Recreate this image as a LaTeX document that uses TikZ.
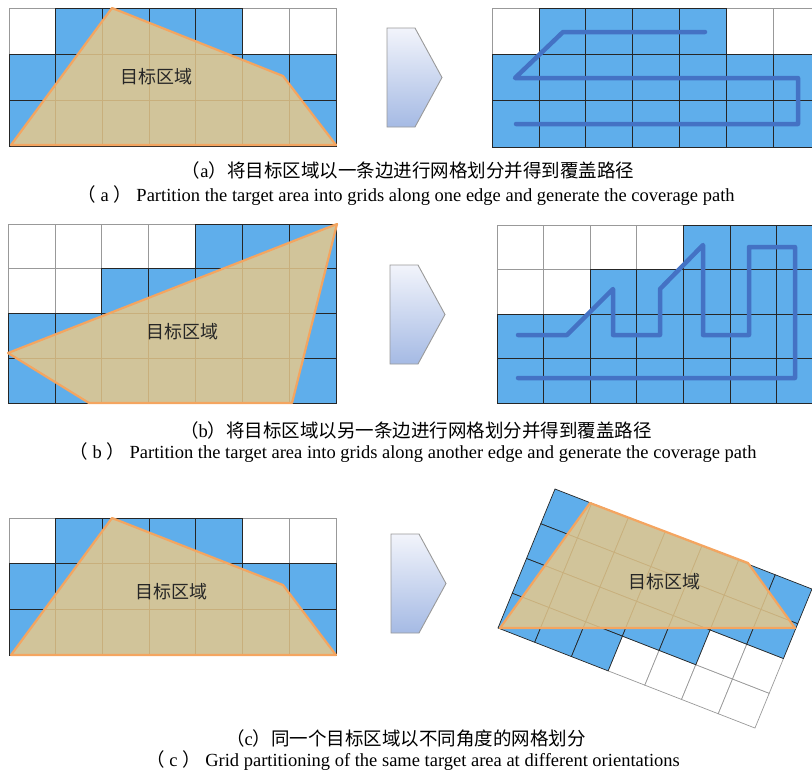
\documentclass[tikz,border=0pt]{standalone}
\usepackage{fontspec}
\setmainfont{Liberation Serif}
\newfontfamily\cjk{Noto Sans CJK SC}
\usetikzlibrary{positioning}
\definecolor{cellblue}{RGB}{95,174,235}
\definecolor{regiontan}{RGB}{229,200,140}
\definecolor{edgeorange}{RGB}{244,165,96}
\definecolor{pathblue}{RGB}{68,114,196}
\definecolor{shiftlight}{RGB}{242,244,251}
\definecolor{shiftdark}{RGB}{165,186,228}

\begin{document}
\begin{tikzpicture}[x=1pt, y=-1pt,
        bluecell/.style={fill=cellblue, draw=black!85, line width=0.7pt},
        whitecell/.style={fill=white, draw=black!40, line width=0.7pt},
        region/.style={fill=regiontan, fill opacity=0.85, draw=edgeorange, line width=2.2pt, line join=round},
        covpath/.style={draw=pathblue, line width=4.5pt, line cap=round, line join=round},
        shifter/.style={top color=shiftlight, bottom color=shiftdark, draw=black!40, line width=0.9pt},
        areatext/.style={font=\cjk\fontsize{18}{18}\selectfont, text=black!85},
        capzh/.style={font=\cjk\fontsize{18.5}{20}\selectfont, anchor=base, inner sep=0pt},
        capen/.style={font=\fontsize{18.5}{20}\selectfont, anchor=base, inner sep=0pt}
    ]
    \useasboundingbox (0,0) rectangle (812,774);
    \clip (0,0) rectangle (812,774);

    % (a) one edge
    \begin{scope}[shift={(9,8)}, x=46.7pt, y=-46pt]
        \foreach \c in {0,5,6} \draw[whitecell] (\c,0) rectangle ++(1,1);
        \foreach \c in {1,...,4} \draw[bluecell] (\c,0) rectangle ++(1,1);
        \foreach \r in {1,2} \foreach \c in {0,...,6} \draw[bluecell] (\c,\r) rectangle ++(1,1);
    \end{scope}
    \draw[region] (11,145) -- (112,8) -- (283,76) -- (336,145) -- cycle;
    \node[areatext] (areaA) at (156,77) {目标区域};

    \begin{scope}[shift={(492,8)}, x=46.85pt, y=-46.3pt]
        \foreach \c in {0,5,6} \draw[whitecell] (\c,0) rectangle ++(1,1);
        \foreach \c in {1,...,4} \draw[bluecell] (\c,0) rectangle ++(1,1);
        \foreach \r in {1,2} \foreach \c in {0,...,6} \draw[bluecell] (\c,\r) rectangle ++(1,1);
    \end{scope}
    \draw[covpath] (705,32) -- (563,32) -- (515,78) -- (798,78) -- (798,124) -- (516,124);

    % (b) another edge
    \begin{scope}[shift={(8,224)}, x=46.9pt, y=-44.8pt]
        \foreach \c in {0,...,3} \draw[whitecell] (\c,0) rectangle ++(1,1);
        \foreach \c in {0,1} \draw[whitecell] (\c,1) rectangle ++(1,1);
        \foreach \c in {4,...,6} \draw[bluecell] (\c,0) rectangle ++(1,1);
        \foreach \c in {2,...,6} \draw[bluecell] (\c,1) rectangle ++(1,1);
        \foreach \r in {2,3} \foreach \c in {0,...,6} \draw[bluecell] (\c,\r) rectangle ++(1,1);
    \end{scope}
    \draw[region] (337,224) -- (8,353) -- (89,403) -- (292,403) -- cycle;
    \node[areatext] (areaB) at (182,332) {目标区域};

    \begin{scope}[shift={(497,225)}, x=46.6pt, y=-44.5pt]
        \foreach \c in {0,...,3} \draw[whitecell] (\c,0) rectangle ++(1,1);
        \foreach \c in {0,1} \draw[whitecell] (\c,1) rectangle ++(1,1);
        \foreach \c in {4,...,6} \draw[bluecell] (\c,0) rectangle ++(1,1);
        \foreach \c in {2,...,6} \draw[bluecell] (\c,1) rectangle ++(1,1);
        \foreach \r in {2,3} \foreach \c in {0,...,6} \draw[bluecell] (\c,\r) rectangle ++(1,1);
    \end{scope}
    \draw[covpath] (518,335) -- (567,335) -- (613,289) -- (613,335) -- (660,335) -- (660,289)
        -- (703,245) -- (703,335) -- (749,335) -- (749,247) -- (795,247) -- (795,378) -- (518,378);

    % (c) same area, two orientations
    \begin{scope}[shift={(9,518)}, x=46.7pt, y=-45.7pt]
        \foreach \c in {0,5,6} \draw[whitecell] (\c,0) rectangle ++(1,1);
        \foreach \c in {1,...,4} \draw[bluecell] (\c,0) rectangle ++(1,1);
        \foreach \r in {1,2} \foreach \c in {0,...,6} \draw[bluecell] (\c,\r) rectangle ++(1,1);
    \end{scope}
    \draw[region] (11,655) -- (112,518) -- (283,585) -- (336,655) -- cycle;
    \node[areatext] (areaC) at (171,592) {目标区域};

    % rotated grid: cells drawn as quadrilaterals
    \begin{scope}[shift={(555,489)}, x={(36.71pt,-14.29pt)}, y={(-14.25pt,-34.75pt)}]
        \foreach \c in {3,...,6} \draw[whitecell] (\c,3) -- ++(1,0) -- ++(0,1) -- ++(-1,0) -- cycle;
        \foreach \c in {5,6} \draw[whitecell] (\c,2) -- ++(1,0) -- ++(0,1) -- ++(-1,0) -- cycle;
        \foreach \r in {0,1} \foreach \c in {0,...,6}
            \draw[bluecell] (\c,\r) -- ++(1,0) -- ++(0,1) -- ++(-1,0) -- cycle;
        \foreach \c in {0,...,4} \draw[bluecell] (\c,2) -- ++(1,0) -- ++(0,1) -- ++(-1,0) -- cycle;
        \foreach \c in {0,...,2} \draw[bluecell] (\c,3) -- ++(1,0) -- ++(0,1) -- ++(-1,0) -- cycle;
    \end{scope}
    \draw[region] (500,628) -- (590,503) -- (748,563) -- (795,628) -- cycle;
    \node[areatext] (areaD) at (664,582) {目标区域};

    % shift arrows
    \foreach \ax/\ay in {387/28, 390/265, 391/534}
        \shadedraw[shifter] (\ax,\ay) -- ++(28,0) -- ++(27,49.5) -- ++(-27,49.5) -- ++(-28,0) -- cycle;

    % captions
    \node[capzh] (capA) at (408,177) {（{\rmfamily a}）将目标区域以一条边进行网格划分并得到覆盖路径};
    \node[capen] (capAen) at (406,201) {{\cjk （} a {\cjk ）} Partition the target area into grids along one edge and generate the coverage path};
    \node[capzh] (capB) at (416,437) {（{\rmfamily b}）将目标区域以另一条边进行网格划分并得到覆盖路径};
    \node[capen] (capBen) at (413,458) {{\cjk （} b {\cjk ）} Partition the target area into grids along another edge and generate the coverage path};
    \node[capzh] (capC) at (406,745) {（{\rmfamily c}）同一个目标区域以不同角度的网格划分};
    \node[capen] (capCen) at (413,766) {{\cjk （} c {\cjk ）} Grid partitioning of the same target area at different orientations};
\end{tikzpicture}
\end{document}
